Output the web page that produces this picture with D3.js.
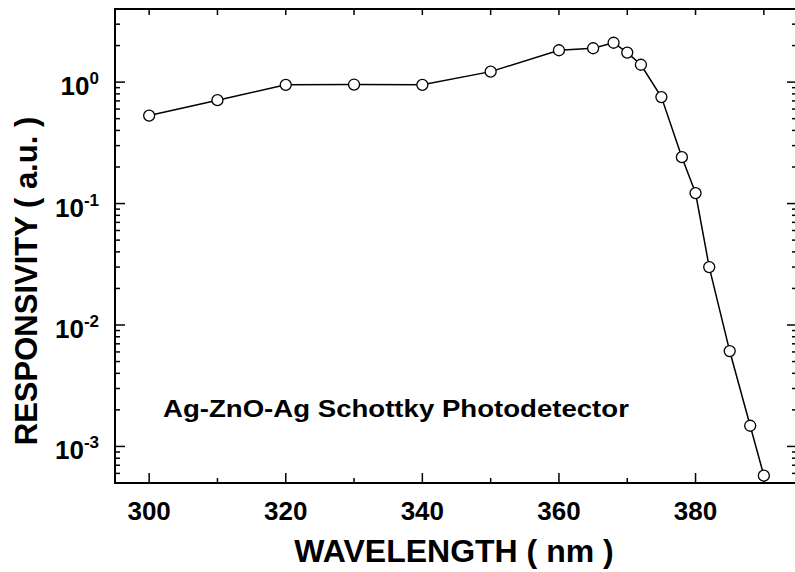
<!DOCTYPE html>
<html>
<head>
<meta charset="utf-8">
<script src="https://cdn.jsdelivr.net/npm/d3@7.9.0/dist/d3.min.js"></script>
<style>
  body { margin: 0; background: #fff; }
  svg { display: block; font-family: "Liberation Sans", Arial, sans-serif; font-weight: bold; }
</style>
</head>
<body>
<svg width="795" height="572"></svg>
<script>
// data
const wavelength = [300, 310, 320, 330, 340, 350, 360, 365, 368, 370, 372, 375, 378, 380, 382, 385, 388, 390];
const responsivity = [0.53, 0.71, 0.95, 0.955, 0.95, 1.22, 1.83, 1.9, 2.11, 1.75, 1.39, 0.753, 0.241, 0.122, 0.030, 0.0061, 0.00148, 0.000575];
const xTicks = [300, 320, 340, 360, 380];
const yDecades = [0, -1, -2, -3];

const svg = d3.select('svg');
const plotL = 115, plotR = 798, plotT = 9, plotB = 483;

const x = d3.scaleLinear().domain([295, 395]).range([plotL, plotR]);
const y = d3.scaleLog().domain([5e-4, 4]).range([plotB, plotT]);

// minor log ticks 1..9 for every decade inside domain
let logTicks = [];
for (let e = -4; e <= 0; e++) {
  for (let m = 1; m <= 9; m++) {
    let v = m * Math.pow(10, e);
    if (v >= 5e-4 && v <= 4) logTicks.push(v);
  }
}
const isMajor = (v) => Math.abs(Math.log10(v) - Math.round(Math.log10(v))) < 1e-9;

let g = svg.append('g');

// left axis ticks
g.selectAll('.ytl').data(logTicks).join('line')
  .attr('x1', plotL).attr('x2', (d) => plotL + (isMajor(d) ? 10 : 5))
  .attr('y1', (d) => y(d)).attr('y2', (d) => y(d))
  .attr('stroke', '#000').attr('stroke-width', 1.5);

// right axis ticks
g.selectAll('.ytr').data(logTicks).join('line')
  .attr('x1', plotR).attr('x2', (d) => plotR - (isMajor(d) ? 11 : 6))
  .attr('y1', (d) => y(d)).attr('y2', (d) => y(d))
  .attr('stroke', '#000').attr('stroke-width', 1.5);

// bottom ticks: every 10 nm, long at 20 nm
const xAll = d3.range(300, 391, 10);
g.selectAll('.xtb').data(xAll).join('line')
  .attr('x1', (d) => x(d)).attr('x2', (d) => x(d))
  .attr('y1', plotB).attr('y2', (d) => plotB - (d % 20 === 0 ? 10 : 5))
  .attr('stroke', '#000').attr('stroke-width', 1.5);

// top ticks
g.selectAll('.xtt').data(xAll).join('line')
  .attr('x1', (d) => x(d)).attr('x2', (d) => x(d))
  .attr('y1', plotT).attr('y2', plotT + 6)
  .attr('stroke', '#000').attr('stroke-width', 1.5);

// frame
g.append('rect')
  .attr('x', plotL).attr('y', plotT)
  .attr('width', plotR - plotL).attr('height', plotB - plotT)
  .attr('fill', 'none').attr('stroke', '#000').attr('stroke-width', 2);

// x tick labels
svg.selectAll('.xl').data(xTicks).join('text')
  .attr('x', (d) => x(d)).attr('y', 520)
  .attr('text-anchor', 'middle')
  .attr('font-size', 26)
  .text((d) => d);

// y tick labels 10^n
yDecades.forEach((e) => {
  let t = svg.append('text')
    .attr('x', 99).attr('y', y(Math.pow(10, e)) + 13)
    .attr('text-anchor', 'end')
    .attr('font-size', 26);
  t.append('tspan').text('10');
  t.append('tspan').attr('font-size', 17).attr('dy', -11).text(e);
});

// axis titles
svg.append('text')
  .attr('x', 454).attr('y', 562)
  .attr('text-anchor', 'middle')
  .attr('font-size', 32)
  .text('WAVELENGTH ( nm )');

svg.append('text')
  .attr('transform', 'translate(37,281) rotate(-90)')
  .attr('text-anchor', 'middle')
  .attr('font-size', 31)
  .text('RESPONSIVITY ( a.u. )');

// annotation (glyphs look horizontally stretched in the original)
svg.append('text')
  .attr('transform', 'translate(163,417) scale(1.2,1)')
  .attr('font-size', 23)
  .text('Ag-ZnO-Ag Schottky Photodetector');

// data line + markers
const pts = wavelength.map((w, i) => [w, responsivity[i]]);
const line = d3.line().x((d) => x(d[0])).y((d) => y(d[1]));

svg.append('path')
  .attr('d', line(pts))
  .attr('fill', 'none')
  .attr('stroke', '#000')
  .attr('stroke-width', 1.5);

svg.selectAll('circle').data(pts).join('circle')
  .attr('cx', (d) => x(d[0]))
  .attr('cy', (d) => y(d[1]))
  .attr('r', 5.5)
  .attr('fill', '#fff')
  .attr('stroke', '#000')
  .attr('stroke-width', 1.3);
</script>
</body>
</html>
